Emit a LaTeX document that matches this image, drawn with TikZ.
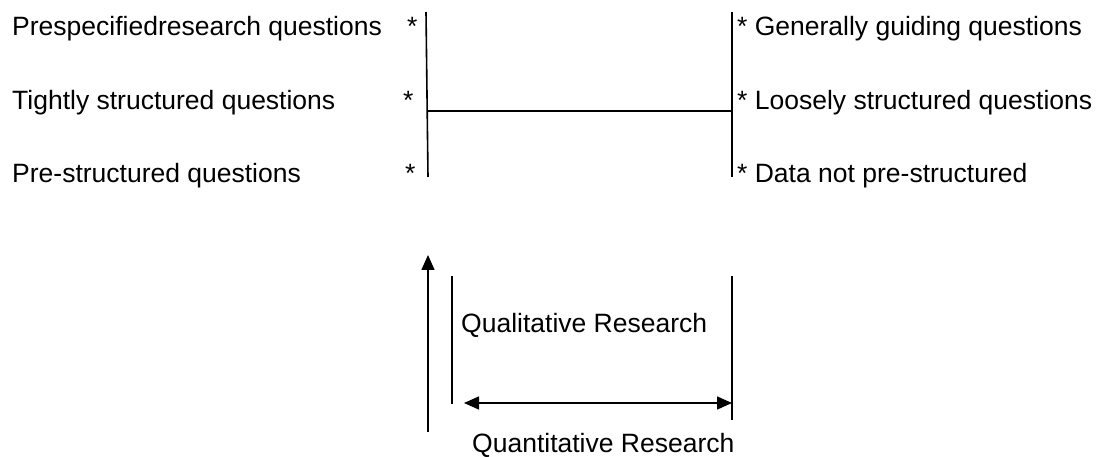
\documentclass[tikz,border=0pt]{standalone}
\usepackage{fontspec}
\setmainfont{Liberation Sans}
\usetikzlibrary{arrows.meta}
\begin{document}
\begin{tikzpicture}[x=1pt,y=-1pt,
  lbl/.style={anchor=base west,inner sep=0pt,font=\fontsize{26.5}{30}\selectfont},
  ln/.style={line width=1.6pt,line cap=butt},
  tip/.style={-{Triangle[length=15pt,width=13pt]}}]
\useasboundingbox (0,0) rectangle (1104,457);
% left column texts
\node[lbl] (l1) at (12,36) {Prespecifiedresearch questions};
\node[lbl] (l2) at (12,110) {Tightly structured questions};
\node[lbl] (l3) at (12,183) {Pre-structured questions};
\node[lbl] (s1) at (407,36) {*};
\node[lbl] (s2) at (403,110) {*};
\node[lbl] (s3) at (405,183) {*};
% right column texts
\node[lbl] (r1) at (737,36) {* Generally guiding questions};
\node[lbl] (r2) at (737,110) {* Loosely structured questions};
\node[lbl] (r3) at (737,183) {* Data not pre-structured};
% frame lines
\coordinate (lt) at (426,12);
\coordinate (lb) at (428,177);
\coordinate (lm) at (427,111);
\coordinate (rt) at (732,12);
\coordinate (rb) at (732,177);
\coordinate (rm) at (732,111);
\draw[ln] (lt) -- (lb);
\draw[ln] (rt) -- (rb);
\draw[ln] (lm) -- (rm);
% bottom part
\coordinate (ua) at (428,432);
\coordinate (ub) at (428,255);
\draw[ln,tip] (ua) -- (ub);
\coordinate (qlt) at (452,276);
\coordinate (qlb) at (452,404);
\coordinate (qrt) at (732,276);
\coordinate (qrb) at (732,420);
\draw[ln] (qlt) -- (qlb);
\draw[ln] (qrt) -- (qrb);
\coordinate (da) at (464,403);
\coordinate (db) at (732,403);
\draw[ln,{Triangle[length=15pt,width=13pt]}-{Triangle[length=15pt,width=13pt]}] (da) -- (db);
\node[lbl] (ql) at (461,333) {Qualitative Research};
\node[lbl] (qn) at (472,452) {Quantitative Research};
\end{tikzpicture}
\end{document}
